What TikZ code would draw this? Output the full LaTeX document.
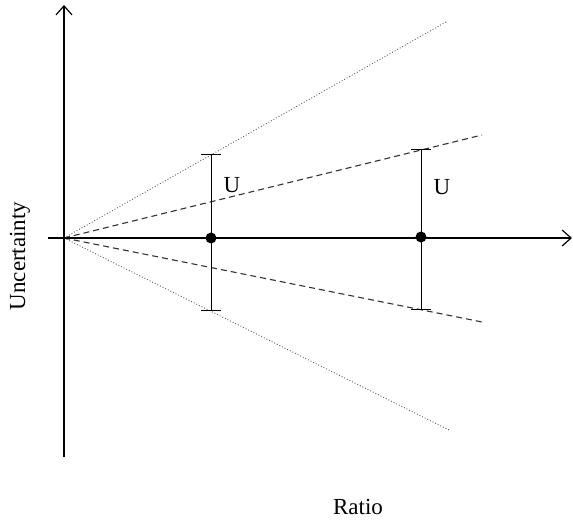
\documentclass[tikz,border=0pt]{standalone}
\usepackage{fontspec}
\setmainfont{Liberation Serif}
\usetikzlibrary{arrows.meta}
\begin{document}
\begin{tikzpicture}[x=1pt,y=-1pt,
  axis/.style={line width=1.8pt,-{Straight Barb[length=9pt,width=16pt,line width=1.2pt]}},
  outer/.style={gray!70!black,line width=0.9pt,dotted},
  inner/.style={black!80,line width=1.1pt,dash pattern=on 6pt off 4pt},
  ebar/.style={line width=1pt},
  lbl/.style={font=\fontsize{23}{25}\selectfont,inner sep=0pt},
  pt/.style={circle,fill=black,inner sep=0pt,minimum size=11pt}]
\useasboundingbox (0,0) rectangle (573,521);
\coordinate (O) at (64,238);
\coordinate (ybot) at (64,457);
\coordinate (ytop) at (64,5);
\coordinate (xl) at (48,238);
\coordinate (xr) at (572,238);
\coordinate (ou) at (446,22);
\coordinate (ol) at (449,430);
\coordinate (du) at (482,135);
\coordinate (dl) at (482,322);
\coordinate (a1) at (211,155);
\coordinate (b1) at (211,311);
\coordinate (a2) at (421,150);
\coordinate (b2) at (421,310);
\draw[outer] (O) -- (ou);
\draw[outer] (O) -- (ol);
\draw[inner] (O) -- (du);
\draw[inner] (O) -- (dl);
\draw[axis] (ybot) -- (ytop);
\draw[axis] (xl) -- (xr);
\draw[ebar] (a1) -- (b1);
\draw[ebar] ([xshift=-10pt]a1) -- ([xshift=10pt]a1);
\draw[ebar] ([xshift=-10pt]b1) -- ([xshift=10pt]b1);
\draw[ebar] (a2) -- (b2);
\draw[ebar] ([xshift=-10pt]a2) -- ([xshift=10pt]a2);
\draw[ebar] ([xshift=-10pt]b2) -- ([xshift=10pt]b2);
\node[pt] (p1) at (211,238) {};
\node[pt] (p2) at (421,237) {};
\node[lbl] (u1) at (232,185) {U};
\node[lbl] (u2) at (442,187) {U};
\node[lbl] (rx) at (358,507) {Ratio};
\node[lbl,rotate=90] (uy) at (20,256) {Uncertainty};
\end{tikzpicture}
\end{document}
